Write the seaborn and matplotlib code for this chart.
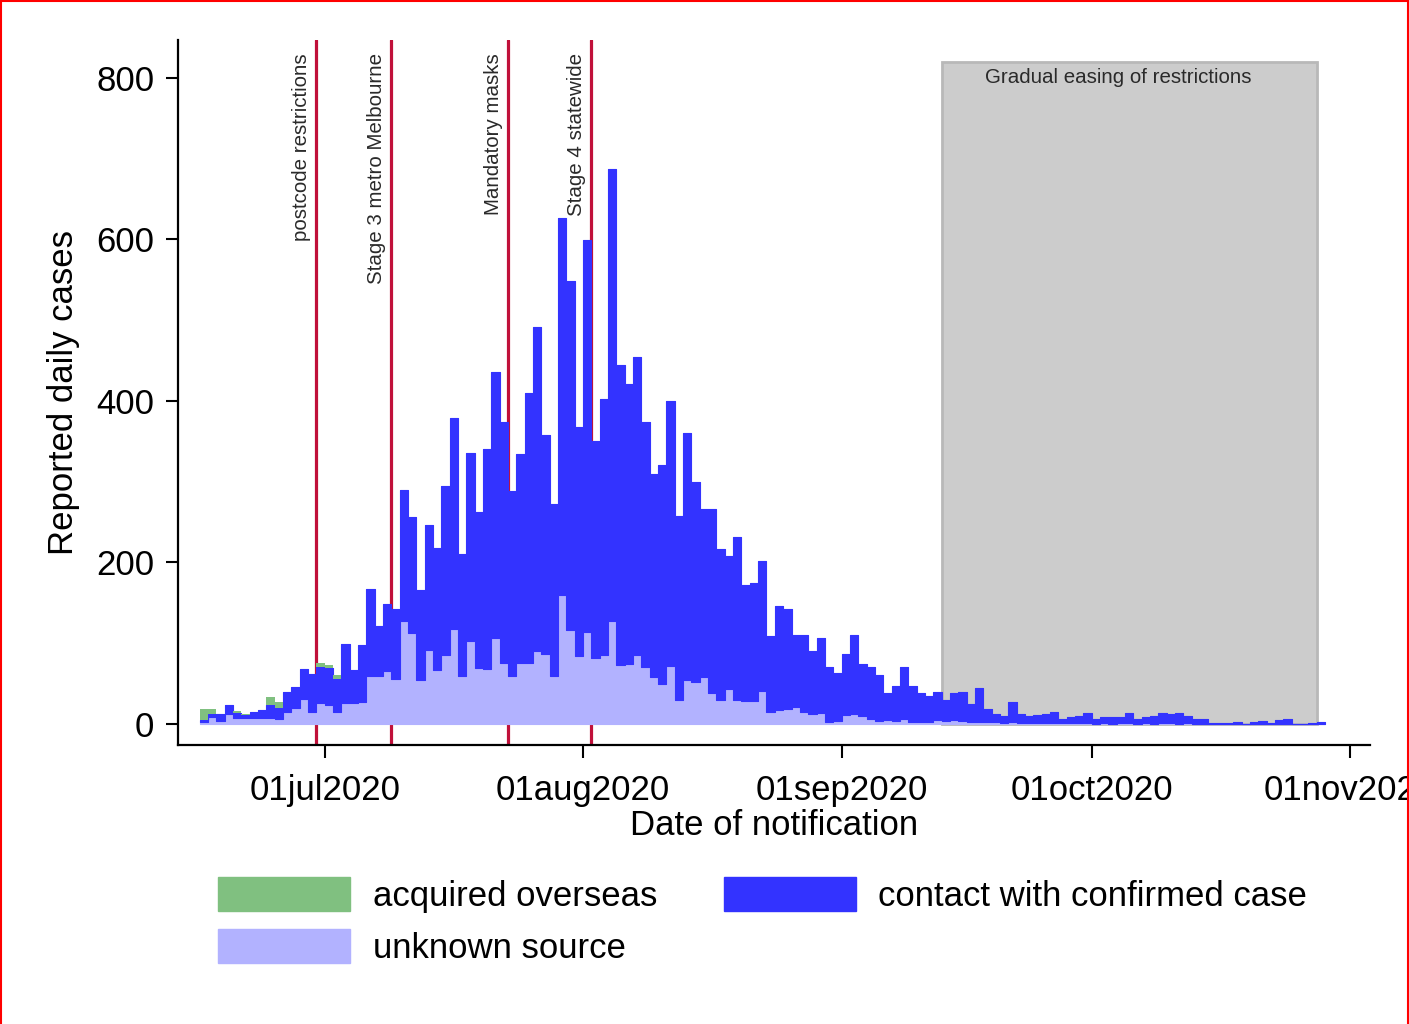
import numpy as np
import pandas as pd
import matplotlib
matplotlib.use("Agg")
import matplotlib.pyplot as plt
import matplotlib.dates as mdates
from matplotlib.colors import to_rgba
from matplotlib.patches import Patch, Rectangle
from matplotlib.lines import Line2D
import seaborn as sns

# ---------------------------------------------------------------------------
# Daily notified cases by source of acquisition, Victoria, 16 Jun - 28 Oct 2020
# ---------------------------------------------------------------------------
first_day = "2020-06-16"

overseas_jun = [14, 6, 0, 0, 2, 1, 0, 0, 10, 7, 0, 0, 0, 0, 5]
overseas_jul = [4, 5] + [0] * 29

contact_jun = [3, 3, 8, 11, 7, 4, 7, 9, 15, 14, 25, 26, 37, 47, 45]
contact_jul = [46, 41, 73, 41, 71, 108, 62, 83, 87, 162, 143, 112, 154, 151, 210,
               261, 151, 233, 193, 273, 330, 299, 229, 258, 334, 401, 271, 214,
               466, 432, 284]
contact_aug = [485, 269, 318, 560, 371, 347, 370, 304, 252, 271, 328, 227, 305,
               248, 208, 228, 187, 165, 201, 143, 147, 161, 94, 129, 124, 89, 95,
               77, 93, 67, 59]
contact_sep = [76, 98, 64, 64, 57, 33, 43, 64, 44, 36, 33, 35, 26, 34, 36, 22, 42,
               17, 10, 9, 25, 11, 9, 10, 11, 14, 5, 8, 9, 13]
contact_oct = [6, 8, 9, 8, 13, 6, 8, 10, 13, 11, 14, 9, 6, 6, 1, 1, 1, 2, 0, 2, 4,
               1, 5, 6, 0, 0, 1, 3]

unknown_jun = [2, 9, 4, 12, 7, 7, 8, 8, 8, 6, 15, 20, 31, 15, 26]
unknown_jul = [23, 15, 26, 26, 27, 59, 59, 66, 56, 128, 113, 54, 92, 67, 85, 118,
               60, 103, 69, 68, 106, 75, 59, 76, 76, 91, 87, 59, 160, 117, 84]
unknown_aug = [114, 82, 85, 127, 73, 74, 85, 70, 58, 50, 72, 30, 55, 52, 58, 38,
               30, 43, 30, 29, 28, 41, 15, 17, 18, 21, 15, 13, 14, 3, 4]
unknown_sep = [11, 12, 10, 6, 4, 5, 4, 6, 3, 3, 2, 5, 4, 5, 4, 3, 3, 2, 2, 1, 2, 1,
               1, 1, 1, 1, 1, 1, 1, 1]
unknown_oct = [0, 1, 0, 1, 1, 0, 1, 0, 1, 1, 0, 1, 0, 0] + [0] * 14

# Policy events (date, label)
event_dates = ["2020-06-30", "2020-07-09", "2020-07-23", "2020-08-02"]
event_labels = ["postcode restrictions", "Stage 3 metro Melbourne",
                "Mandatory masks", "Stage 4 statewide"]

easing_start, easing_end = "2020-09-13", "2020-10-28"
easing_label = "Gradual easing of restrictions"

tick_dates = ["2020-07-01", "2020-08-01", "2020-09-01", "2020-10-01", "2020-11-01"]
tick_labels = ["01jul2020", "01aug2020", "01sep2020", "01oct2020", "01nov2020"]
y_ticks = [0, 200, 400, 600, 800]

sources = ["acquired overseas", "contact with confirmed case", "unknown source"]
colors = {"acquired overseas": "#80C080",
          "contact with confirmed case": "#3333FF",
          "unknown source": "#B2B2FF"}

# ---------------------------------------------------------------------------
contact = contact_jun + contact_jul + contact_aug + contact_sep + contact_oct
unknown = unknown_jun + unknown_jul + unknown_aug + unknown_sep + unknown_oct
overseas = overseas_jun + overseas_jul
overseas = overseas + [0] * (len(contact) - len(overseas))

dates = pd.date_range(first_day, periods=len(contact), freq="D")
day_num = mdates.date2num(dates)

df = pd.concat([
    pd.DataFrame({"day": day_num, "source": src, "cases": vals})
    for src, vals in zip(sources, [overseas, contact, unknown])
], ignore_index=True)

sns.set_style("ticks")
plt.rcParams["font.family"] = ["Liberation Sans", "DejaVu Sans"]
plt.rcParams["text.color"] = "black"
plt.rcParams["axes.labelcolor"] = "black"
plt.rcParams["xtick.color"] = "black"
plt.rcParams["ytick.color"] = "black"

fig = plt.figure(figsize=(14.09, 10.24), dpi=100)
ax = fig.add_axes([178 / 1409, 1 - 745 / 1024, (1370 - 178) / 1409, (745 - 40) / 1024])

# shaded easing period
x0 = mdates.date2num(pd.Timestamp(easing_start))
x1 = mdates.date2num(pd.Timestamp(easing_end))
ax.add_patch(Rectangle((x0, 0), x1 - x0, 820, facecolor="#CCCCCC",
                       edgecolor="#B8B8B8", linewidth=2, zorder=0.5))
ax.text(x0 + (x1 - x0) * 0.47, 800, easing_label, ha="center", va="center",
        fontsize=14.8, color="#2A2A2A", zorder=3)

# event markers
for d, lab in zip(event_dates, event_labels):
    xd = mdates.date2num(pd.Timestamp(d))
    ax.axvline(xd, color="#C0103A", linewidth=2.3, zorder=0.8)
    ax.text(xd - 1.8, 831, lab, rotation=90, ha="center", va="top",
            fontsize=14.8, color="#2A2A2A", zorder=3)

# stacked daily counts, one-day bins starting on each notification date
sns.histplot(data=df, x="day", weights="cases", hue="source", hue_order=sources,
             palette=colors, multiple="stack", element="step", binwidth=1,
             binrange=(float(day_num[0]), float(day_num[-1]) + 1),
             alpha=1, linewidth=0, legend=False, ax=ax)
green = to_rgba(colors["acquired overseas"])
for coll in ax.collections:
    fc = coll.get_facecolor()
    coll.set_zorder(2)
    if np.allclose(fc[0], green):
        coll.set_linewidth(0)
    else:
        coll.set_edgecolor(fc)
        coll.set_linewidth(0.8)

# axes
jul1 = mdates.date2num(pd.Timestamp("2020-07-01"))
ax.set_xlim(jul1 - 17.6, jul1 + 125.4)
ax.set_ylim(-26, 847)
ax.set_xticks(mdates.date2num(pd.to_datetime(tick_dates)))
ax.set_xticklabels(tick_labels)
ax.set_yticks(y_ticks)
ax.tick_params(axis="both", labelsize=25, length=9, width=1.5, direction="out",
               color="black", labelcolor="black")
ax.tick_params(axis="x", pad=12)
ax.tick_params(axis="y", pad=8)
ax.set_xlabel("Date of notification", fontsize=25, labelpad=1, color="black")
ax.set_ylabel("Reported daily cases", fontsize=25, labelpad=12, color="black")
for s in ["top", "right"]:
    ax.spines[s].set_visible(False)
for s in ["left", "bottom"]:
    ax.spines[s].set_linewidth(1.6)
    ax.spines[s].set_color("black")

# legend
leg_order = ["acquired overseas", "unknown source", "contact with confirmed case"]
handles = [Patch(facecolor=colors[s], edgecolor=colors[s]) for s in leg_order]
fig.legend(handles, leg_order, loc="upper left",
           bbox_to_anchor=(218 / 1409, 1 - 877 / 1024), ncol=2, frameon=False,
           fontsize=25, handlelength=3.8, handleheight=1.15, handletextpad=0.65,
           columnspacing=1.92, labelspacing=0.45, borderpad=0, borderaxespad=0)

# red frame
for xs, ys in [([0.001, 0.001], [0, 1]), ([0, 1], [0.999, 0.999]),
               ([0.999, 0.999], [0, 1])]:
    fig.add_artist(Line2D(xs, ys, transform=fig.transFigure, color="red",
                          linewidth=1.5))

fig.savefig("out.png", dpi=100)
